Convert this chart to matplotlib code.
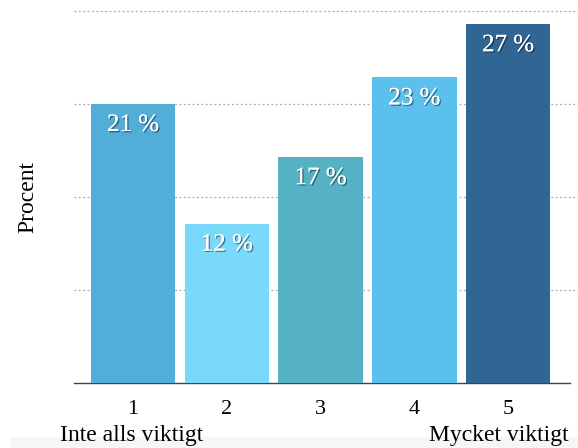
import matplotlib
matplotlib.use("Agg")
import matplotlib.pyplot as plt
import matplotlib.patheffects as pe
from matplotlib.patches import Rectangle

categories = ["1", "2", "3", "4", "5"]
values = [21, 12, 17, 23, 27]
colors = ["#52ADD9", "#79D9FA", "#56B1C5", "#5BC1EC", "#306594"]
ylabel = "Procent"
low_label = "Inte alls viktigt"
high_label = "Mycket viktigt"

plt.rcParams["font.family"] = ["Liberation Serif", "DejaVu Serif"]

fig = plt.figure(figsize=(5.78, 4.48), dpi=100)
# light band at the bottom of the figure
fig.patches.append(Rectangle((10 / 578, 0), 1, 11 / 448, transform=fig.transFigure,
                             facecolor="#f6f6f6", edgecolor="none", zorder=0))
ax = fig.add_axes([74 / 578, 1 - 383 / 448, (570 - 74) / 578, (383 - 11) / 448])

x = list(range(1, len(categories) + 1))
bars = ax.bar(x, values, width=0.9, color=colors, zorder=3)

for xi, v in zip(x, values):
    ax.text(xi, v - 0.75, f"{v} %", ha="center", va="top", color="white",
            fontsize=18, zorder=4,
            path_effects=[pe.withSimplePatchShadow(offset=(1, -1), shadow_rgbFace="black", alpha=0.45),
                          pe.Normal()])

ax.set_ylim(0, 28)
ax.set_xlim(0.37, 5.66)
grid_levels = [7, 14, 21, 28]
ax.set_yticks(grid_levels)
ax.hlines(grid_levels, 0, 1.02, transform=ax.get_yaxis_transform(), clip_on=False,
          linestyles=[(0, (1.5, 2))], colors="#aaaaaa", linewidth=0.9, zorder=0)
ax.tick_params(axis="y", length=0, labelleft=False)
ax.set_xticks(x)
ax.set_xticklabels(categories, fontsize=16)
ax.tick_params(axis="x", length=0, pad=12)
for s in ["top", "right", "left"]:
    ax.spines[s].set_visible(False)
ax.spines["bottom"].set_color("#444444")
ax.spines["bottom"].set_linewidth(1.0)

fig.text(28 / 578, 1 - 197 / 448, ylabel, rotation=90, ha="center", va="center", fontsize=17)
fig.text(60 / 578, 1 - 435 / 448, low_label, ha="left", va="center", fontsize=17)
fig.text(569 / 578, 1 - 435 / 448, high_label, ha="right", va="center", fontsize=17)

fig.savefig("out.png", dpi=100)
